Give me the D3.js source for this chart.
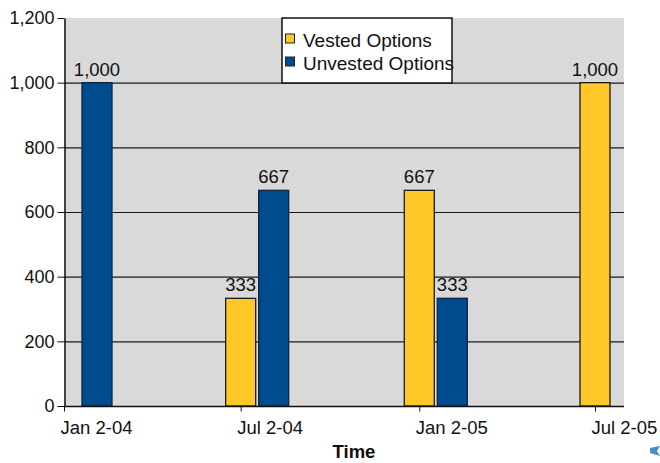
<!DOCTYPE html>
<html>
<head>
<meta charset="utf-8">
<script src="https://cdn.jsdelivr.net/npm/d3@7"></script>
<style>
  body { margin: 0; background: #fff; }
  text { font-family: "Liberation Sans", Arial, sans-serif; }
</style>
</head>
<body>
<div id="chart"></div>
<script>
const DATES = ["2004-01-02", "2004-07-02", "2005-01-02", "2005-07-02"];
const TICK_LABELS = ["Jan 2-04", "Jul 2-04", "Jan 2-05", "Jul 2-05"];
const VESTED = [0, 333, 667, 1000];
const UNVESTED = [1000, 667, 333, 0];
const Y_TICKS = [0, 200, 400, 600, 800, 1000, 1200];

const SERIES = [
  { key: "vested", label: "Vested Options", values: VESTED, fill: "#ffc829", stroke: "#1a1a1a", offset: -15 },
  { key: "unvested", label: "Unvested Options", values: UNVESTED, fill: "#004b8d", stroke: "#0d2440", offset: 18 },
];

const width = 660;
const height = 463;
const plot = { left: 64, right: 624, top: 18, bottom: 406 };
const barWidth = 30;
const fontSize = 18.5;

const parse = d3.timeParse("%Y-%m-%d");
const dates = DATES.map(parse);

const x = d3.scaleTime()
  .domain([dates[0], dates[dates.length - 1]])
  .range([plot.left, 595]);

const y = d3.scaleLinear()
  .domain([0, 1200])
  .range([plot.bottom, plot.top]);

const svg = d3.select("#chart")
  .append("svg")
  .attr("width", width)
  .attr("height", height);

svg.append("rect")
  .attr("x", plot.left)
  .attr("y", plot.top)
  .attr("width", plot.right - plot.left)
  .attr("height", plot.bottom - plot.top)
  .attr("fill", "#d9d9d9");

// gridlines
svg.append("g")
  .selectAll("line")
  .data(Y_TICKS.filter((d) => d > 0 && d < 1200))
  .join("line")
  .attr("x1", plot.left)
  .attr("x2", plot.right)
  .attr("y1", (d) => y(d) + 0.5)
  .attr("y2", (d) => y(d) + 0.5)
  .attr("stroke", "#1a1a1a")
  .attr("stroke-width", 1.2);

// bars
for (const series of SERIES) {
  const rows = series.values.map((value, i) => ({ value, date: dates[i] }))
    .filter((d) => d.value > 0);

  svg.append("g")
    .selectAll("rect")
    .data(rows)
    .join("rect")
    .attr("x", (d) => x(d.date) + series.offset)
    .attr("y", (d) => y(d.value))
    .attr("width", barWidth)
    .attr("height", (d) => y(0) - y(d.value))
    .attr("fill", series.fill)
    .attr("stroke", series.stroke)
    .attr("stroke-width", 1.3);

  svg.append("g")
    .selectAll("text")
    .data(rows)
    .join("text")
    .attr("x", (d) => x(d.date) + series.offset + barWidth / 2)
    .attr("y", (d) => y(d.value) - 7)
    .attr("text-anchor", "middle")
    .attr("font-size", fontSize)
    .attr("fill", "#111")
    .text((d) => d3.format(",")(d.value));
}

// y axis
const yAxis = svg.append("g")
  .attr("transform", `translate(${plot.left + 0.5},0)`)
  .call(d3.axisLeft(y).tickValues(Y_TICKS).tickFormat(d3.format(",")).tickSize(7).tickSizeOuter(0));
yAxis.select(".domain").attr("stroke", "#111").attr("stroke-width", 1.5);
yAxis.selectAll(".tick line").attr("stroke", "#111");
yAxis.selectAll(".tick text")
  .attr("font-size", 18)
  .attr("font-family", "Liberation Sans, Arial, sans-serif")
  .attr("fill", "#111")
  .attr("x", -10);

// x axis, labels start at their tick
const xAxis = svg.append("g")
  .attr("transform", `translate(0,${plot.bottom + 0.5})`)
  .call(d3.axisBottom(x).tickValues(dates).tickFormat((d, i) => TICK_LABELS[i]).tickSize(5).tickSizeOuter(0));
xAxis.select(".domain").attr("d", `M${plot.left},0H${plot.right}`).attr("stroke", "#111").attr("stroke-width", 1.5);
xAxis.selectAll(".tick line").attr("stroke", "#111");
xAxis.selectAll(".tick text")
  .attr("font-size", fontSize)
  .attr("font-family", "Liberation Sans, Arial, sans-serif")
  .attr("fill", "#111")
  .attr("text-anchor", "start")
  .attr("x", -4)
  .attr("dy", 0)
  .attr("y", 27);

svg.append("text")
  .attr("x", 354)
  .attr("y", 458)
  .attr("text-anchor", "middle")
  .attr("font-size", fontSize)
  .attr("font-weight", "bold")
  .attr("fill", "#111")
  .text("Time");

// legend
const legend = svg.append("g").attr("transform", "translate(282,18)");
legend.append("rect")
  .attr("width", 170)
  .attr("height", 65)
  .attr("fill", "#fff")
  .attr("stroke", "#111")
  .attr("stroke-width", 1.5);

const legendItem = legend.selectAll("g")
  .data(SERIES)
  .join("g")
  .attr("transform", (d, i) => `translate(3,${29 + i * 23})`);

legendItem.append("rect")
  .attr("x", 0.5)
  .attr("y", -13)
  .attr("width", 9)
  .attr("height", 9)
  .attr("fill", (d) => d.fill)
  .attr("stroke", "#222");

legendItem.append("text")
  .attr("x", 18)
  .attr("y", 0)
  .attr("font-size", 19)
  .attr("fill", "#111")
  .text((d) => d.label);

// small corner marker
svg.append("path")
  .attr("d", "M650,448 L660,446 L657,451 L660,456 L650,453 Z")
  .attr("fill", "#4a90c8");
</script>
</body>
</html>
